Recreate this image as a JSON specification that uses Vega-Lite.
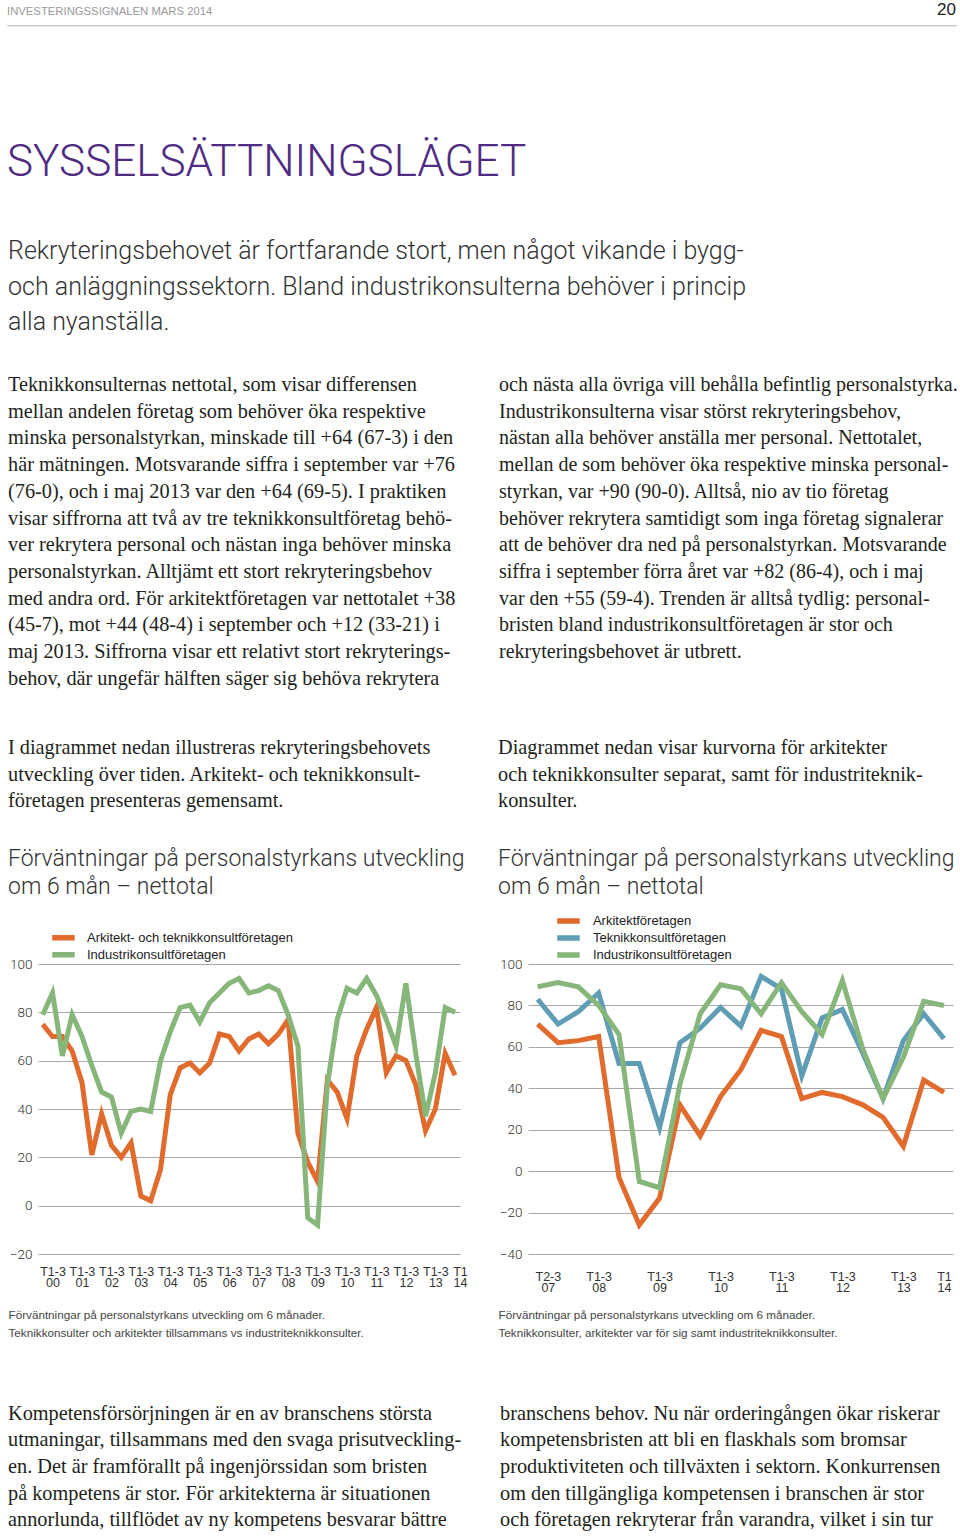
{
  "$schema": "https://vega.github.io/schema/vega-lite/v6.json",
  "padding": {"left": 6, "top": 1, "right": 0, "bottom": 0},
  "background": "white",
  "spacing": 0,
  "resolve": {"scale": {"color": "independent"}, "legend": {"color": "independent"}},
  "config": {
    "view": {"stroke": null},
    "title": {"baseline": "top", "anchor": "start", "frame": "group", "offset": 0, "fontWeight": "normal"},
    "axis": {"domain": false, "ticks": false}
  },
  "datasets": {
    "left": [
      {"t": 2000, "Arkitekt- och teknikkonsultföretagen": 75, "Industrikonsultföretagen": 79},
      {"t": 2000.333, "Arkitekt- och teknikkonsultföretagen": 70, "Industrikonsultföretagen": 88},
      {"t": 2000.667, "Arkitekt- och teknikkonsultföretagen": 70, "Industrikonsultföretagen": 62},
      {"t": 2001, "Arkitekt- och teknikkonsultföretagen": 64, "Industrikonsultföretagen": 79},
      {"t": 2001.333, "Arkitekt- och teknikkonsultföretagen": 51, "Industrikonsultföretagen": 70},
      {"t": 2001.667, "Arkitekt- och teknikkonsultföretagen": 21, "Industrikonsultföretagen": 58},
      {"t": 2002, "Arkitekt- och teknikkonsultföretagen": 38, "Industrikonsultföretagen": 47},
      {"t": 2002.333, "Arkitekt- och teknikkonsultföretagen": 25, "Industrikonsultföretagen": 45},
      {"t": 2002.667, "Arkitekt- och teknikkonsultföretagen": 20, "Industrikonsultföretagen": 30},
      {"t": 2003, "Arkitekt- och teknikkonsultföretagen": 26, "Industrikonsultföretagen": 39},
      {"t": 2003.333, "Arkitekt- och teknikkonsultföretagen": 4, "Industrikonsultföretagen": 40},
      {"t": 2003.667, "Arkitekt- och teknikkonsultföretagen": 2, "Industrikonsultföretagen": 39},
      {"t": 2004, "Arkitekt- och teknikkonsultföretagen": 15, "Industrikonsultföretagen": 60},
      {"t": 2004.333, "Arkitekt- och teknikkonsultföretagen": 46, "Industrikonsultföretagen": 72},
      {"t": 2004.667, "Arkitekt- och teknikkonsultföretagen": 57, "Industrikonsultföretagen": 82},
      {"t": 2005, "Arkitekt- och teknikkonsultföretagen": 59, "Industrikonsultföretagen": 83},
      {"t": 2005.333, "Arkitekt- och teknikkonsultföretagen": 55, "Industrikonsultföretagen": 76},
      {"t": 2005.667, "Arkitekt- och teknikkonsultföretagen": 59, "Industrikonsultföretagen": 84},
      {"t": 2006, "Arkitekt- och teknikkonsultföretagen": 71, "Industrikonsultföretagen": 88},
      {"t": 2006.333, "Arkitekt- och teknikkonsultföretagen": 70, "Industrikonsultföretagen": 92},
      {"t": 2006.667, "Arkitekt- och teknikkonsultföretagen": 64, "Industrikonsultföretagen": 94},
      {"t": 2007, "Arkitekt- och teknikkonsultföretagen": 69, "Industrikonsultföretagen": 88},
      {"t": 2007.333, "Arkitekt- och teknikkonsultföretagen": 71, "Industrikonsultföretagen": 89},
      {"t": 2007.667, "Arkitekt- och teknikkonsultföretagen": 67, "Industrikonsultföretagen": 91},
      {"t": 2008, "Arkitekt- och teknikkonsultföretagen": 71, "Industrikonsultföretagen": 89},
      {"t": 2008.333, "Arkitekt- och teknikkonsultföretagen": 77, "Industrikonsultföretagen": 79},
      {"t": 2008.667, "Arkitekt- och teknikkonsultföretagen": 30, "Industrikonsultföretagen": 66},
      {"t": 2009, "Arkitekt- och teknikkonsultföretagen": 18, "Industrikonsultföretagen": -5},
      {"t": 2009.333, "Arkitekt- och teknikkonsultföretagen": 10, "Industrikonsultföretagen": -8},
      {"t": 2009.667, "Arkitekt- och teknikkonsultföretagen": 52, "Industrikonsultföretagen": 50},
      {"t": 2010, "Arkitekt- och teknikkonsultföretagen": 47, "Industrikonsultföretagen": 77},
      {"t": 2010.333, "Arkitekt- och teknikkonsultföretagen": 36, "Industrikonsultföretagen": 90},
      {"t": 2010.667, "Arkitekt- och teknikkonsultföretagen": 62, "Industrikonsultföretagen": 88},
      {"t": 2011, "Arkitekt- och teknikkonsultföretagen": 73, "Industrikonsultföretagen": 94},
      {"t": 2011.333, "Arkitekt- och teknikkonsultföretagen": 82, "Industrikonsultföretagen": 87},
      {"t": 2011.667, "Arkitekt- och teknikkonsultföretagen": 55, "Industrikonsultföretagen": 77},
      {"t": 2012, "Arkitekt- och teknikkonsultföretagen": 62, "Industrikonsultföretagen": 66},
      {"t": 2012.333, "Arkitekt- och teknikkonsultföretagen": 60, "Industrikonsultföretagen": 92},
      {"t": 2012.667, "Arkitekt- och teknikkonsultföretagen": 50, "Industrikonsultföretagen": 63},
      {"t": 2013, "Arkitekt- och teknikkonsultföretagen": 31, "Industrikonsultföretagen": 37},
      {"t": 2013.333, "Arkitekt- och teknikkonsultföretagen": 40, "Industrikonsultföretagen": 55},
      {"t": 2013.667, "Arkitekt- och teknikkonsultföretagen": 63, "Industrikonsultföretagen": 82},
      {"t": 2014, "Arkitekt- och teknikkonsultföretagen": 54, "Industrikonsultföretagen": 80}
    ],
    "right": [
      {"t": 2007.333, "Arkitektföretagen": 71, "Teknikkonsultföretagen": 83, "Industrikonsultföretagen": 89},
      {"t": 2007.667, "Arkitektföretagen": 62, "Teknikkonsultföretagen": 71, "Industrikonsultföretagen": 91},
      {"t": 2008, "Arkitektföretagen": 63, "Teknikkonsultföretagen": 77, "Industrikonsultföretagen": 89},
      {"t": 2008.333, "Arkitektföretagen": 65, "Teknikkonsultföretagen": 86, "Industrikonsultföretagen": 80},
      {"t": 2008.667, "Arkitektföretagen": -3, "Teknikkonsultföretagen": 52, "Industrikonsultföretagen": 66},
      {"t": 2009, "Arkitektföretagen": -26, "Teknikkonsultföretagen": 52, "Industrikonsultföretagen": -5},
      {"t": 2009.333, "Arkitektföretagen": -13, "Teknikkonsultföretagen": 21, "Industrikonsultföretagen": -8},
      {"t": 2009.667, "Arkitektföretagen": 32, "Teknikkonsultföretagen": 62, "Industrikonsultföretagen": 42},
      {"t": 2010, "Arkitektföretagen": 17, "Teknikkonsultföretagen": 69, "Industrikonsultföretagen": 76},
      {"t": 2010.333, "Arkitektföretagen": 36, "Teknikkonsultföretagen": 79, "Industrikonsultföretagen": 90},
      {"t": 2010.667, "Arkitektföretagen": 49, "Teknikkonsultföretagen": 70, "Industrikonsultföretagen": 88},
      {"t": 2011, "Arkitektföretagen": 68, "Teknikkonsultföretagen": 94, "Industrikonsultföretagen": 76},
      {"t": 2011.333, "Arkitektföretagen": 65, "Teknikkonsultföretagen": 88, "Industrikonsultföretagen": 91},
      {"t": 2011.667, "Arkitektföretagen": 35, "Teknikkonsultföretagen": 46, "Industrikonsultföretagen": 77},
      {"t": 2012, "Arkitektföretagen": 38, "Teknikkonsultföretagen": 74, "Industrikonsultföretagen": 66},
      {"t": 2012.333, "Arkitektföretagen": 36, "Teknikkonsultföretagen": 78, "Industrikonsultföretagen": 92},
      {"t": 2012.667, "Arkitektföretagen": 32, "Teknikkonsultföretagen": 57, "Industrikonsultföretagen": 59},
      {"t": 2013, "Arkitektföretagen": 26, "Teknikkonsultföretagen": 35, "Industrikonsultföretagen": 35},
      {"t": 2013.333, "Arkitektföretagen": 12, "Teknikkonsultföretagen": 63, "Industrikonsultföretagen": 55},
      {"t": 2013.667, "Arkitektföretagen": 44, "Teknikkonsultföretagen": 76, "Industrikonsultföretagen": 82},
      {"t": 2014, "Arkitektföretagen": 38, "Teknikkonsultföretagen": 64, "Industrikonsultföretagen": 80}
    ]
  },
  "vconcat": [
    {
      "hconcat": [
        {
          "width": 900, "height": 6,
          "data": {"values": []}, "mark": "rule", "encoding": {},
          "title": {"text": "INVESTERINGSSIGNALEN MARS 2014", "orient": "top", "offset": 0.7, "dx": 0, "font": "Liberation Sans", "fontSize": 11.3, "color": "#9a9a9a"}
        },
        {
          "width": 49, "height": 6,
          "data": {"values": []}, "mark": "rule", "encoding": {},
          "title": {"text": "20", "orient": "top", "anchor": "end", "offset": -1, "font": "Liberation Sans", "fontSize": 17, "color": "#222222"}
        }
      ],
      "spacing": 0,
      "bounds": "flush"
    },
    {
      "width": 949, "height": 0.5,
      "view": {"stroke": "#cccccc", "strokeWidth": 1},
      "data": {"values": []}, "mark": "rule", "encoding": {},
      "title": {"text": "SYSSELSÄTTNINGSLÄGET", "orient": "bottom", "offset": 115.5, "dx": 0, "font": "Roboto", "fontSize": 44, "fontWeight": 300, "color": "#4f2b82"}
    },
    {
      "width": 949, "height": 53,
      "data": {"values": []}, "mark": "rule", "encoding": {},
      "title": {
        "text": [
          "Rekryteringsbehovet är fortfarande stort, men något vikande i bygg-",
          "och anläggningssektorn. Bland industrikonsulterna behöver i princip",
          "alla nyanställa."
        ],
        "orient": "bottom", "offset": 0, "dx": 1, "font": "Roboto", "fontSize": 25, "fontWeight": 300, "lineHeight": 35.5, "color": "#333333"
      }
    },
    {
      "hconcat": [
        {
          "width": 491, "height": 40,
          "data": {"values": []}, "mark": "rule", "encoding": {},
          "title": {
            "text": [
              "Teknikkonsulternas nettotal, som visar differensen",
              "mellan andelen företag som behöver öka respektive",
              "minska personalstyrkan, minskade till +64 (67-3) i den",
              "här mätningen. Motsvarande siffra i september var +76",
              "(76-0), och i maj 2013 var den +64 (69-5). I praktiken",
              "visar siffrorna att två av tre teknikkonsultföretag behö-",
              "ver rekrytera personal och nästan inga behöver minska",
              "personalstyrkan. Alltjämt ett stort rekryteringsbehov",
              "med andra ord. För arkitektföretagen var nettotalet +38",
              "(45-7), mot +44 (48-4) i september och +12 (33-21) i",
              "maj 2013. Siffrorna visar ett relativt stort rekryterings-",
              "behov, där ungefär hälften säger sig behöva rekrytera"
            ],
            "orient": "bottom", "offset": 0, "dx": 1, "font": "Liberation Serif", "fontSize": 20.3, "lineHeight": 26.7, "color": "#231f20"
          }
        },
        {
          "width": 457, "height": 40,
          "data": {"values": []}, "mark": "rule", "encoding": {},
          "title": {
            "text": [
              "och nästa alla övriga vill behålla befintlig personalstyrka.",
              "Industrikonsulterna visar störst rekryteringsbehov,",
              "nästan alla behöver anställa mer personal. Nettotalet,",
              "mellan de som behöver öka respektive minska personal-",
              "styrkan, var +90 (90-0). Alltså, nio av tio företag",
              "behöver rekrytera samtidigt som inga företag signalerar",
              "att de behöver dra ned på personalstyrkan. Motsvarande",
              "siffra i september förra året var +82 (86-4), och i maj",
              "var den +55 (59-4). Trenden är alltså tydlig: personal-",
              "bristen bland industrikonsultföretagen är stor och",
              "rekryteringsbehovet är utbrett."
            ],
            "orient": "bottom", "offset": 0, "dx": 1, "font": "Liberation Serif", "fontSize": 20, "lineHeight": 26.7, "color": "#231f20"
          }
        }
      ],
      "spacing": 0,
      "bounds": "flush"
    },
    {
      "width": 10, "height": 47.8,
      "data": {"values": []}, "mark": "rule", "encoding": {}
    },
    {
      "hconcat": [
        {
          "width": 1, "height": 1,
          "data": {"values": []}, "mark": "rule", "encoding": {}
        },
        {
          "hconcat": [
            {
              "width": 422, "height": 290,
              "data": {"name": "left"},
              "transform": [{"fold": ["Arkitekt- och teknikkonsultföretagen", "Industrikonsultföretagen"], "as": ["serie", "v"]}],
              "mark": {"type": "line", "strokeWidth": 5},
              "encoding": {
                "x": {
                  "field": "t", "type": "quantitative",
                  "scale": {"domain": [1999.84, 2014.17], "nice": false, "zero": false},
                  "axis": {
                    "values": [2000.333, 2001.333, 2002.333, 2003.333, 2004.333, 2005.333, 2006.333, 2007.333, 2008.333, 2009.333, 2010.333, 2011.333, 2012.333, 2013.333, 2014.17],
                    "labelExpr": "datum.value > 2014.1 ? ['T1', '14'] : ['T1-3', slice('0' + floor(datum.value - 2000), -2)]",
                    "grid": false,
                    "labelFont": "Liberation Sans", "labelFontSize": 12.5, "labelLineHeight": 11, "labelColor": "#333333",
                    "labelPadding": 11, "labelOverlap": false, "labelFlush": false, "labelBound": false,
                    "title": ["Förväntningar på personalstyrkans utveckling om 6 månader.", "Teknikkonsulter och arkitekter tillsammans vs industriteknikkonsulter."],
                    "titleX": -30, "titleY": 55, "titleAlign": "left", "titleBaseline": "top", "titleAnchor": "start",
                    "titleFont": "Liberation Sans", "titleFontSize": 11.7, "titleFontWeight": "normal", "titleColor": "#444444", "titleLineHeight": 18
                  }
                },
                "y": {
                  "field": "v", "type": "quantitative",
                  "scale": {"domain": [-20, 100], "nice": false, "zero": false},
                  "axis": {
                    "values": [-20, 0, 20, 40, 60, 80, 100], "title": null,
                    "grid": true, "gridColor": "#a8a8a8", "gridWidth": 1.2,
                    "labelFont": "Roboto", "labelFontWeight": 300, "labelFontSize": 13.5, "labelColor": "#333333", "labelPadding": 6
                  }
                },
                "color": {
                  "field": "serie", "type": "nominal",
                  "scale": {"domain": ["Arkitekt- och teknikkonsultföretagen", "Industrikonsultföretagen"], "range": ["#e06b2c", "#86b679"]},
                  "legend": {
                    "orient": "none", "legendX": 14.2, "legendY": -34.65, "title": null, "direction": "vertical",
                    "symbolType": "M-2.55,0H2.55", "symbolSize": 121, "symbolStrokeWidth": 5.5,
                    "labelFont": "Liberation Sans", "labelFontSize": 13, "labelColor": "#222222", "labelOffset": 17.8, "labelLimit": 400,
                    "clipHeight": 16.7, "rowPadding": 0, "padding": 0
                  }
                }
              },
              "title": {
                "text": [
                  "I diagrammet nedan illustreras rekryteringsbehovets",
                  "utveckling över tiden. Arkitekt- och teknikkonsult-",
                  "företagen presenteras gemensamt."
                ],
                "subtitle": ["Förväntningar på personalstyrkans utveckling", "om 6 mån – nettotal"],
                "orient": "top", "anchor": "start", "frame": "bounds", "offset": 30.7,
                "font": "Liberation Serif", "fontSize": 20.3, "lineHeight": 26.7, "color": "#231f20",
                "subtitleFont": "Roboto", "subtitleFontSize": 23, "subtitleFontWeight": 300, "subtitleLineHeight": 28, "subtitleColor": "#333333", "subtitlePadding": 36.1
              }
            },
            {
              "width": 425, "height": 290,
              "data": {"name": "right"},
              "transform": [{"fold": ["Arkitektföretagen", "Teknikkonsultföretagen", "Industrikonsultföretagen"], "as": ["serie", "v"]}],
              "mark": {"type": "line", "strokeWidth": 5},
              "encoding": {
                "x": {
                  "field": "t", "type": "quantitative",
                  "scale": {"domain": [2007.174, 2014.148], "nice": false, "zero": false},
                  "axis": {
                    "values": [2007.5, 2008.333, 2009.333, 2010.333, 2011.333, 2012.333, 2013.333, 2014],
                    "labelExpr": "datum.value < 2008 ? ['T2-3', '07'] : datum.value > 2013.9 ? ['T1', '14'] : ['T1-3', slice('0' + floor(datum.value - 2000), -2)]",
                    "grid": false,
                    "labelFont": "Liberation Sans", "labelFontSize": 12.5, "labelLineHeight": 11.5, "labelColor": "#333333",
                    "labelPadding": 16, "labelOverlap": false, "labelFlush": false, "labelBound": false,
                    "title": ["Förväntningar på personalstyrkans utveckling om 6 månader.", "Teknikkonsulter, arkitekter var för sig samt industriteknikkonsulter."],
                    "titleX": -30, "titleY": 55, "titleAlign": "left", "titleBaseline": "top", "titleAnchor": "start",
                    "titleFont": "Liberation Sans", "titleFontSize": 11.7, "titleFontWeight": "normal", "titleColor": "#444444", "titleLineHeight": 18
                  }
                },
                "y": {
                  "field": "v", "type": "quantitative",
                  "scale": {"domain": [-40, 100], "nice": false, "zero": false},
                  "axis": {
                    "values": [-40, -20, 0, 20, 40, 60, 80, 100], "title": null,
                    "grid": true, "gridColor": "#a8a8a8", "gridWidth": 1.2,
                    "labelFont": "Roboto", "labelFontWeight": 300, "labelFontSize": 13.5, "labelColor": "#333333", "labelPadding": 6
                  }
                },
                "color": {
                  "field": "serie", "type": "nominal",
                  "scale": {"domain": ["Arkitektföretagen", "Teknikkonsultföretagen", "Industrikonsultföretagen"], "range": ["#e06b2c", "#5f9db4", "#86b679"]},
                  "legend": {
                    "orient": "none", "legendX": 29.2, "legendY": -51.35, "title": null, "direction": "vertical",
                    "symbolType": "M-2.55,0H2.55", "symbolSize": 121, "symbolStrokeWidth": 5.5,
                    "labelFont": "Liberation Sans", "labelFontSize": 13, "labelColor": "#222222", "labelOffset": 18.7, "labelLimit": 400,
                    "clipHeight": 16.7, "rowPadding": 0, "padding": 0
                  }
                }
              },
              "title": {
                "text": [
                  "Diagrammet nedan visar kurvorna för arkitekter",
                  "och teknikkonsulter separat, samt för industriteknik-",
                  "konsulter."
                ],
                "subtitle": ["Förväntningar på personalstyrkans utveckling", "om 6 mån – nettotal"],
                "orient": "top", "anchor": "start", "frame": "bounds", "offset": 14,
                "font": "Liberation Serif", "fontSize": 20.3, "lineHeight": 26.7, "color": "#231f20",
                "subtitleFont": "Roboto", "subtitleFontSize": 23, "subtitleFontWeight": 300, "subtitleLineHeight": 28, "subtitleColor": "#333333", "subtitlePadding": 36.1
              }
            }
          ],
          "spacing": 68,
          "bounds": "flush",
          "resolve": {"scale": {"color": "independent"}, "legend": {"color": "independent"}}
        }
      ],
      "spacing": 0,
      "bounds": "full",
      "resolve": {"scale": {"color": "independent"}, "legend": {"color": "independent"}}
    },
    {
      "hconcat": [
        {
          "width": 492, "height": 64.6,
          "data": {"values": []}, "mark": "rule", "encoding": {},
          "title": {
            "text": [
              "Kompetensförsörjningen är en av branschens största",
              "utmaningar, tillsammans med den svaga prisutveckling-",
              "en. Det är framförallt på ingenjörssidan som bristen",
              "på kompetens är stor. För arkitekterna är situationen",
              "annorlunda, tillflödet av ny kompetens besvarar bättre"
            ],
            "orient": "bottom", "offset": 0, "dx": 1, "font": "Liberation Serif", "fontSize": 20.3, "lineHeight": 26.7, "color": "#231f20"
          }
        },
        {
          "width": 456, "height": 64.6,
          "data": {"values": []}, "mark": "rule", "encoding": {},
          "title": {
            "text": [
              "branschens behov. Nu när orderingången ökar riskerar",
              "kompetensbristen att bli en flaskhals som bromsar",
              "produktiviteten och tillväxten i sektorn. Konkurrensen",
              "om den tillgängliga kompetensen i branschen är stor",
              "och företagen rekryterar från varandra, vilket i sin tur"
            ],
            "orient": "bottom", "offset": 0, "dx": 1, "font": "Liberation Serif", "fontSize": 20.3, "lineHeight": 26.7, "color": "#231f20"
          }
        }
      ],
      "spacing": 0,
      "bounds": "flush"
    }
  ]
}
